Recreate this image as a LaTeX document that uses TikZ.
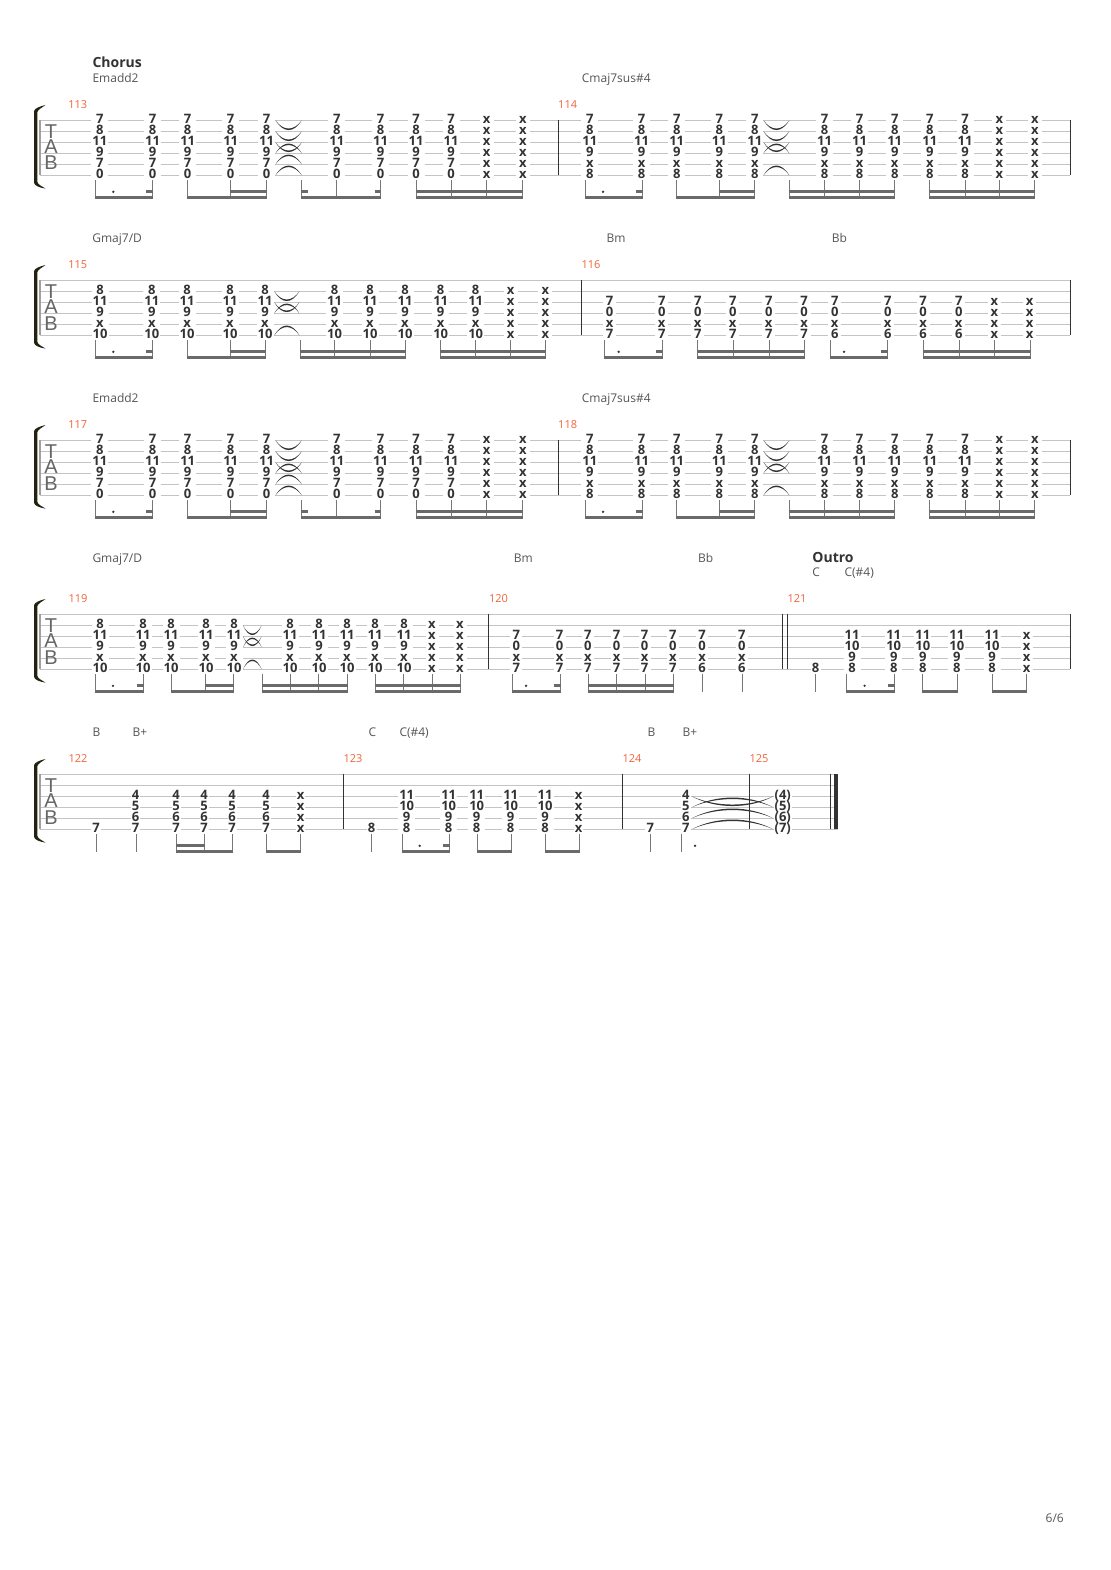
\documentclass[tikz,border=0pt]{standalone}
\usepackage{fontspec}
\setmainfont{Open Sans}
\newfontfamily\tabfont{Liberation Sans}
\definecolor{numc}{HTML}{333333}
\definecolor{lblc}{HTML}{555555}
\definecolor{barnum}{HTML}{F2643A}
\definecolor{linec}{HTML}{C4C4C4}
\definecolor{beamc}{HTML}{6A6A6A}
\definecolor{stemc}{HTML}{777777}
\definecolor{brk}{HTML}{22220F}
\newcount\nodecnt
\newcommand\nid{\global\advance\nodecnt by 1 \edef\nm{t\the\nodecnt}}
\tikzset{
  num/.style={anchor=base,inner sep=0pt,text=numc,font=\fontsize{13}{13}\selectfont\bfseries},
  chordlbl/.style={anchor=base west,inner sep=0pt,text=lblc,font=\fontsize{12}{12}\selectfont},
  seclbl/.style={anchor=base west,inner sep=0pt,text=numc,font=\fontsize{14}{14}\selectfont\bfseries},
  barlbl/.style={anchor=base west,inner sep=0pt,text=barnum,font=\fontsize{11}{11}\selectfont},
  tablbl/.style={anchor=base,inner sep=0pt,text=numc!75,font=\tabfont\fontsize{20}{20}\selectfont},
  string/.style={draw=linec,line width=1pt},
  barline/.style={draw=numc,line width=1pt},
  stemline/.style={draw=stemc,line width=1pt},
  beamline/.style={draw=beamc,line width=2.8pt}
}
% staff: right end
\newcommand\staff[1]{%
  \foreach \s in {0,...,5} \draw[string] (40,\T+11*\s) -- (#1,\T+11*\s);
  \draw[draw=stemc!70,line width=1.4pt] (40,\T) -- (40,\T+55);
  \nid\node[tablbl] (\nm) at (51,\T+18) {T};
  \nid\node[tablbl] (\nm) at (51,\T+33) {A};
  \nid\node[tablbl] (\nm) at (51,\T+49.7) {B};
  \fill[brk] (34,\T-9) .. controls (34.5,\T-12) and (40,\T-14) .. (45.5,\T-15.3)
     .. controls (42,\T-12.5) and (38,\T-11) .. (37.3,\T-8) -- (37.3,\T+61.5)
     .. controls (38,\T+64.5) and (42,\T+66) .. (45.5,\T+68.3)
     .. controls (40,\T+67.5) and (34.5,\T+65.5) .. (34,\T+62.5) -- cycle;
}
\newcommand\barat[1]{\draw[barline] (#1,\T) -- (#1,\T+55);}
% chord column: [gap]{x}{first string}{values}
\newcommand\chd[4][8.5]{%
  \foreach \v [count=\i from #3] in {#4} {
    \fill[white] (#2-#1,\T+11*\i-1.5) rectangle (#2+#1,\T+11*\i+1.5);
    \nid\node[num] (\nm) at (#2,\T+11*\i+2.8) {\v};
  }%
}
\newcommand\stems[1]{\foreach \x in {#1} \draw[stemline] (\x,\T+60) -- (\x,\T+78);}
\newcommand\bmA[2]{\draw[beamline] (#1-.5,\T+77) -- (#2+.5,\T+77);}
\newcommand\bmB[2]{\draw[beamline] (#1-.5,\T+71) -- (#2+.5,\T+71);}
\newcommand\dotn[1]{\fill[numc] (#1,\T+71.5) circle (1.3);}
% ties
\newcommand\tieD[3]{\fill[numc] (#1,\T+11*#3) .. controls (#1+.3*#2-.3*#1,\T+11*#3+13) and (#2-.3*#2+.3*#1,\T+11*#3+13) .. (#2,\T+11*#3)
   .. controls (#2-.3*#2+.3*#1,\T+11*#3+11) and (#1+.3*#2-.3*#1,\T+11*#3+11) .. cycle;}
\newcommand\tieU[3]{\fill[numc] (#1,\T+11*#3) .. controls (#1+.3*#2-.3*#1,\T+11*#3-13) and (#2-.3*#2+.3*#1,\T+11*#3-13) .. (#2,\T+11*#3)
   .. controls (#2-.3*#2+.3*#1,\T+11*#3-11) and (#1+.3*#2-.3*#1,\T+11*#3-11) .. cycle;}
% chord label: y is the visual centre of the capitals
\newcommand\lbl[4]{\nid\node[#1] (\nm) at (#2,#3+4.3) {#4};}
% measures 113 / 117
\newcommand\mEm{%
  \foreach \c in {99.9,152.6,187.7,230.7,266.6,336.8,380.6,416,451} {\chd{\c}{0}{7,8,11,9,7,0}}
  \foreach \c in {486.6,522.8} {\chd[7]{\c}{0}{x,x,x,x,x,x}}
  \tieD{275.5}{301.7}{0}\tieD{275.5}{301.7}{1}\tieD{275.5}{301.7}{2}
  \tieU{275.5}{301.7}{3}\tieU{275.5}{301.7}{4}\tieU{275.5}{301.7}{5}
  \stems{95.4,152.6,187.7,230.7,266.6,301.7,336.8,380.6,416,451,486.6,522.8}
  \bmA{95.4}{152.6}\bmB{146.7}{152.6}\dotn{113.3}
  \bmA{187.7}{266.6}\bmB{230.7}{266.6}
  \bmA{301.7}{380.6}\bmB{301.7}{307.5}\bmB{375}{380.6}
  \bmA{416}{522.8}\bmB{416}{522.8}
}
% measures 114 / 118
\newcommand\mCm{%
  \foreach \c in {589.9,641.6,676.7,719.4,754.9,824.5,859.6,894.7,929.8,965} {\chd{\c}{0}{7,8,11,9,x,8}}
  \foreach \c in {999.4,1034.9} {\chd[7]{\c}{0}{x,x,x,x,x,x}}
  \tieD{763.5}{789.3}{0}\tieD{763.5}{789.3}{1}\tieD{763.5}{789.3}{2}
  \tieU{763.5}{789.3}{3}\tieU{763.5}{789.3}{5}
  \stems{585.5,642,676.7,719.4,754.9,789.3,824.5,859.6,894.7,929.8,965,999.4,1034.9}
  \bmA{585.5}{642}\bmB{636}{642}\dotn{603}
  \bmA{676.7}{754.9}\bmB{719.4}{754.9}
  \bmA{789.3}{894.7}\bmB{789.3}{894.7}
  \bmA{929.8}{1034.9}\bmB{929.8}{1034.9}
}
\begin{document}
\begin{tikzpicture}[x=1pt,y=-1pt]
\useasboundingbox (0,0) rectangle (1110,1570);
\fill[white] (0,0) rectangle (1110,1570);
% ---------- system 1
\def\T{120.3}
\staff{1070.3}
\barat{558.3}\barat{1070.3}
\mEm\mCm
\lbl{seclbl}{92.3}{63.5}{Chorus}
\lbl{chordlbl}{92.3}{78}{Emadd2}
\lbl{chordlbl}{581.7}{78}{Cmaj7sus\#4}
\lbl{barlbl}{68.2}{104}{113}
\lbl{barlbl}{558}{104}{114}
% ---------- system 2
\def\T{280.3}
\staff{1070.3}
\barat{581.3}\barat{1070.3}
\foreach \c in {100,151.8,187.1,230,265,334.6,370,405,440.7,475.7} {\chd{\c}{1}{8,11,9,x,10}}
\foreach \c in {510.7,545.4} {\chd[7]{\c}{1}{x,x,x,x,x}}
\tieD{274.3}{299.3}{1}\tieD{274.3}{299.3}{2}\tieU{274.3}{299.3}{3}\tieU{274.3}{299.3}{5}
\stems{95.7,152,187.1,230,265,300,334.6,370,405,440.7,475.7,510.7,545.4}
\bmA{95.7}{152}\bmB{146}{152}\dotn{113.3}
\bmA{187.1}{265}\bmB{230}{265}
\bmA{300}{405}\bmB{300}{405}
\bmA{440.7}{545.4}\bmB{440.7}{545.4}
\foreach \c in {609.7,661.7,697.7,732.7,768.7,804} {\chd[6.5]{\c}{2}{7,0,x,7}}
\foreach \c in {834.7,887.7,923,958.7} {\chd[6.5]{\c}{2}{7,0,x,6}}
\foreach \c in {994.3,1029.7} {\chd[6.5]{\c}{2}{x,x,x,x}}
\stems{604.3,662.3,697.7,733.3,769,804.7,830.3,887.7,923.3,959,994.3,1030}
\bmA{604.3}{662.3}\bmB{656}{662.3}\dotn{618.7}
\bmA{697.7}{804.7}\bmB{697.7}{804.7}
\bmA{830.3}{887.7}\bmB{881.5}{887.7}\dotn{844}
\bmA{923.3}{1030}\bmB{923.3}{1030}
\lbl{chordlbl}{92.1}{238}{Gmaj7/D}
\lbl{chordlbl}{606.3}{238}{Bm}
\lbl{chordlbl}{831.7}{238}{Bb}
\lbl{barlbl}{68.2}{264}{115}
\lbl{barlbl}{581.3}{264}{116}
% ---------- system 3
\def\T{440.3}
\staff{1070.3}
\barat{558.3}\barat{1070.3}
\mEm\mCm
\lbl{chordlbl}{92.3}{398}{Emadd2}
\lbl{chordlbl}{581.7}{398}{Cmaj7sus\#4}
\lbl{barlbl}{68.2}{424}{117}
\lbl{barlbl}{558}{424}{118}
% ---------- system 4
\def\T{614.3}
\staff{1070.3}
\barat{488.4}\barat{782.7}\barat{787.3}\barat{1070.3}
\foreach \c in {100,143,171,206,234,290,319,347,375,404} {\chd{\c}{1}{8,11,9,x,10}}
\foreach \c in {432,460} {\chd[6.5]{\c}{1}{x,x,x,x,x}}
\tieD{243}{261.7}{1}\tieD{243}{261.7}{2}\tieU{243}{261.7}{3}\tieU{243}{261.7}{5}
\stems{95.7,143,171.3,205.3,233.7,262.3,290.3,318.7,347,375.7,403.7,432,460.3}
\bmA{95.7}{143}\bmB{137}{143}\dotn{113}
\bmA{171.3}{233.7}\bmB{205.3}{233.7}
\bmA{262.3}{347}\bmB{262.3}{347}
\bmA{375.7}{460.3}\bmB{375.7}{460.3}
\foreach \c in {516.4,559.6,587.9,616.6,644.6,672.9} {\chd[6]{\c}{2}{7,0,x,7}}
\foreach \c in {702,741.8} {\chd[6]{\c}{2}{7,0,x,6}}
\stems{512.5,560,588.3,616.6,645,673.6,702,742.5}
\bmA{512.5}{560}\bmB{554}{560}\dotn{526}
\bmA{588.3}{673.6}\bmB{588.3}{673.6}
\chd[5]{815.6}{5}{8}
\foreach \c in {852,893.7,922.8,956.9,992} {\chd{\c}{2}{11,10,9,8}}
\chd[6]{1026.5}{2}{x,x,x,x}
\stems{815.6,846.6,894.5,922.8,957.6,992,1026.5}
\bmA{846.6}{894.5}\bmB{888.5}{894.5}\dotn{864.6}
\bmA{922.8}{957.6}
\bmA{992}{1026.5}
\lbl{chordlbl}{92.3}{558}{Gmaj7/D}
\lbl{chordlbl}{513.7}{558}{Bm}
\lbl{chordlbl}{698}{558}{Bb}
\lbl{seclbl}{812.2}{558}{Outro}
\lbl{chordlbl}{812.2}{572}{C}
\lbl{chordlbl}{844.3}{572}{C(\#4)}
\lbl{barlbl}{68.3}{597.7}{119}
\lbl{barlbl}{488.8}{597.7}{120}
\lbl{barlbl}{787.3}{597.7}{121}
% ---------- system 5
\def\T{774.3}
\staff{838}
\barat{343.3}\barat{622.3}\barat{749.3}\barat{830.3}
\fill[numc] (834,\T) rectangle (838,\T+55);
\chd[5]{96}{5}{7}
\foreach \c in {135.7,176,204,232,266} {\chd[4.5]{\c}{2}{4,5,6,7}}
\chd[4.5]{300.7}{2}{x,x,x,x}
\stems{96.3,136.3,176.3,204.3,232.3,266.3,300.3}
\bmA{176.3}{232.3}\bmB{176.3}{204.3}
\bmA{266.3}{300.3}
\chd[5]{371.7}{5}{8}
\foreach \c in {406.7,448.7,476.7,510.7,545} {\chd{\c}{2}{11,10,9,8}}
\chd[4.5]{578.7}{2}{x,x,x,x}
\stems{371.3,402.3,449.3,477.3,511.3,545.3,579.3}
\bmA{402.3}{449.3}\bmB{443.5}{449.3}\dotn{419.7}
\bmA{477.3}{511.3}
\bmA{545.3}{579.3}
\chd[5]{650.3}{5}{7}
\chd[5]{685.7}{2}{4,5,6,7}
\stems{650.3,681}
\dotn{695}
\chd[9]{782.7}{2}{(4),(5),(6),(7)}
\tieD{691.7}{773.3}{2}\tieU{691.7}{773.3}{3}\tieU{691.7}{773.3}{4}\tieU{691.7}{773.3}{5}
\lbl{chordlbl}{92.3}{731.7}{B}
\lbl{chordlbl}{132.3}{731.7}{B+}
\lbl{chordlbl}{368.3}{731.7}{C}
\lbl{chordlbl}{399.3}{731.7}{C(\#4)}
\lbl{chordlbl}{647.3}{731.7}{B}
\lbl{chordlbl}{682.3}{731.7}{B+}
\lbl{barlbl}{68.3}{758}{122}
\lbl{barlbl}{343.3}{758}{123}
\lbl{barlbl}{622.3}{758}{124}
\lbl{barlbl}{749.3}{758}{125}
% page number
\lbl{chordlbl}{1045.5}{1518}{6/6}
\end{tikzpicture}
\end{document}
